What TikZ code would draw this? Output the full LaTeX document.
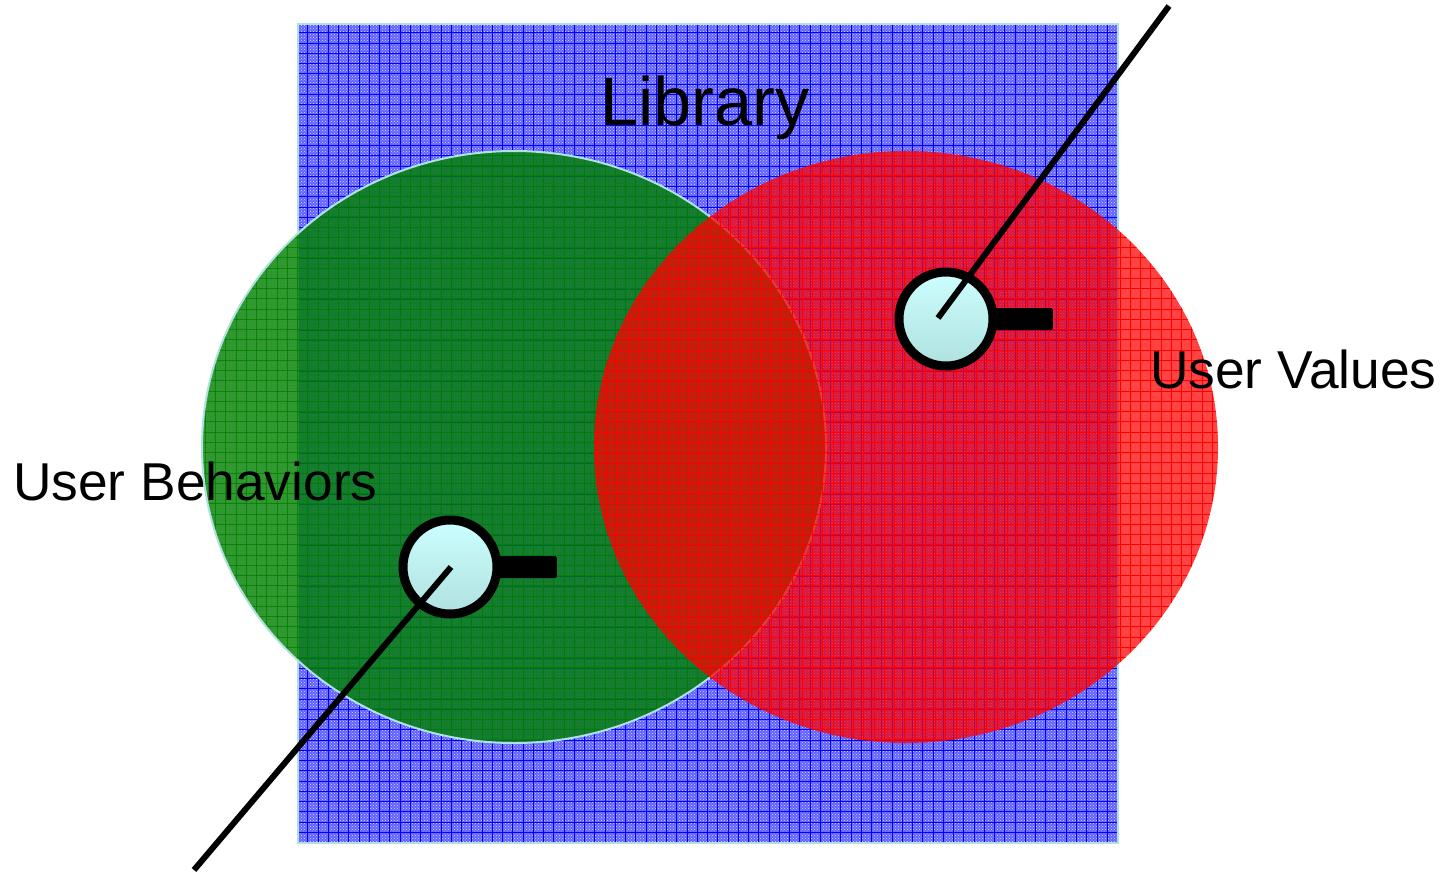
\documentclass[tikz,border=0pt]{standalone}
\usepackage{fontspec}
\setmainfont{Liberation Sans}
\usetikzlibrary{patterns}
\definecolor{rimcolor}{HTML}{B0E0E0}
\definecolor{glasstop}{HTML}{CCFFFF}
\tikzset{
	gridline/.style={line width=.8pt},
	wire/.style={line width=6pt,black},
	lens/.style={circle,draw=black,line width=9pt,minimum size=94pt,inner sep=0pt,top color=glasstop,bottom color=rimcolor},
	handle/.style={fill=black,rounded corners=2pt,minimum width=60pt,minimum height=22pt,inner sep=0pt},
	title/.style={anchor=base west,inner sep=0pt,font=\fontsize{53.3pt}{60pt}\selectfont},
}
\begin{document}
\begin{tikzpicture}[x=1pt,y=-1pt]
		\useasboundingbox (0,0) rectangle (1450,873);
		% library square
		\fill[blue!62!white] (298,24) rectangle (1118,843);
		\fill[pattern=crosshatch dots,pattern color=white!85!blue] (298,24) rectangle (1118,843);
		\foreach \i in {0,...,78}
		\draw[gridline,blue] (307.7+10.25*\i,24) -- (307.7+10.25*\i,843);
		\foreach \i in {0,...,78}
		\draw[gridline,blue] (298,32.7+10.25*\i) -- (1118,32.7+10.25*\i);
		\draw[rimcolor,line width=2pt] (298,24) rectangle (1118,843);
		% user behaviors
		\fill[green!50!black,opacity=.8] (514,447) ellipse (312 and 296);
		\begin{scope}
			\clip (514,447) ellipse (312 and 296);
			\fill[pattern=crosshatch dots,pattern color=green!50!black,opacity=.35] (202,151) rectangle (826,743);
			\foreach \i in {0,...,60}
			\draw[gridline,green!50!black,opacity=.8] (205.2+10.25*\i,151) -- (205.2+10.25*\i,743);
			\foreach \i in {0,...,57}
			\draw[gridline,green!50!black,opacity=.8] (202,155.2+10.25*\i) -- (826,155.2+10.25*\i);
		\end{scope}
		\draw[rimcolor,line width=2pt] (514,447) ellipse (312 and 296);
		% user values
		\fill[red,opacity=.74] (906,447) ellipse (312 and 296);
		\begin{scope}
			\clip (906,447) ellipse (312 and 296);
			\foreach \i in {0,...,60}
			\draw[gridline,red] (597.2+10.25*\i,151) -- (597.2+10.25*\i,743);
			\foreach \i in {0,...,57}
			\draw[gridline,red] (594,155.2+10.25*\i) -- (1218,155.2+10.25*\i);
		\end{scope}
		\node[title,font=\fontsize{68.5pt}{76pt}\selectfont] (library) at (600,125) {Library};
		\node[title] (values) at (1150,388) {User Values};
		\node[title] (behaviors) at (13,500) {User Behaviors};
		% magnifiers
		\foreach \n/\x/\y in {a/946/319,b/450/567}{
			\node[handle,anchor=east] (handle\n) at (\x+107,\y+0) {};
			\node[lens] (lens\n) at (\x,\y) {};
		}
		\coordinate (starta) at (938,318);
		\coordinate (enda) at (1169,6);
		\coordinate (startb) at (451,567);
		\coordinate (endb) at (194,870);
		\draw[wire] (starta) -- (enda);
		\draw[wire] (startb) -- (endb);
	\end{tikzpicture}
\end{document}
